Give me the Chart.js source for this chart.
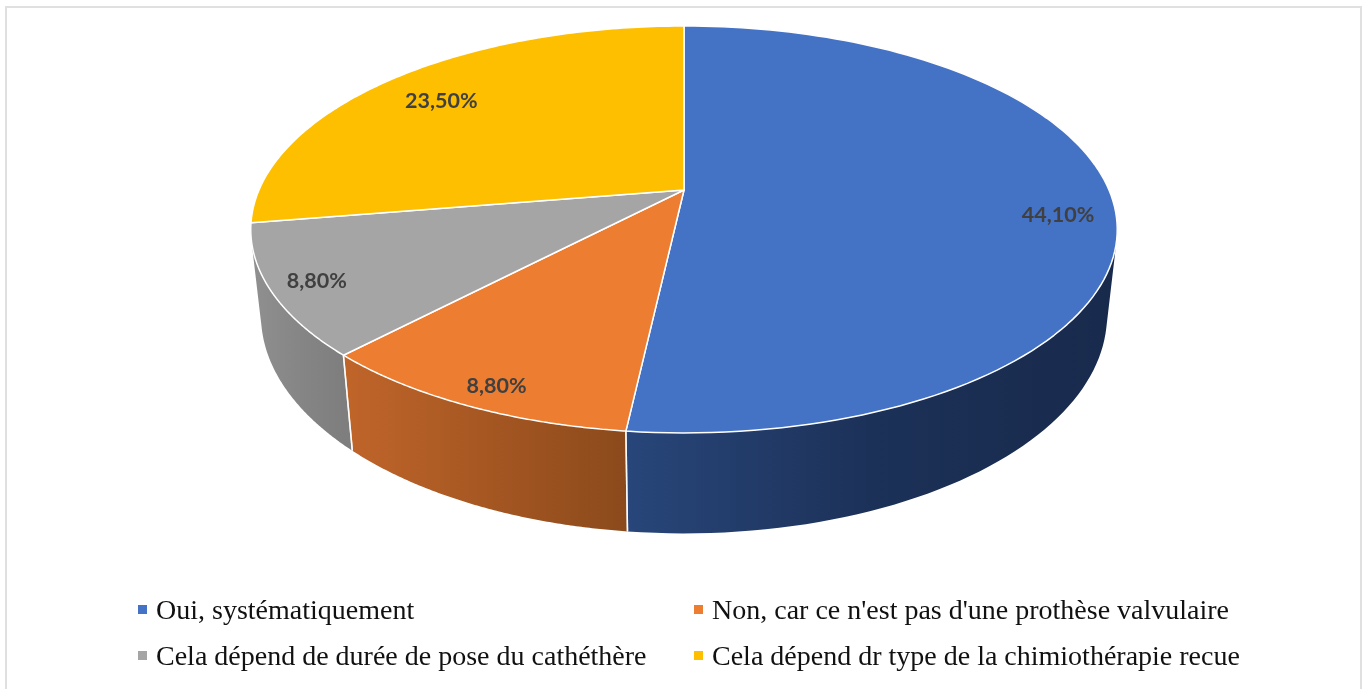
<!DOCTYPE html>
<html>
<head>
<meta charset="utf-8">
<title>Pie 3D</title>
<script src="https://cdn.jsdelivr.net/npm/chart.js@4/dist/chart.umd.js"></script>
<style>
html,body{margin:0;padding:0;background:#fff;overflow:hidden}
#wrap{position:relative;width:1368px;height:689px}
#frame{position:absolute;left:5px;top:6px;width:1357px;height:690px;border:2px solid #e0e0e0;box-sizing:border-box}
#pie3d{position:absolute;left:0;top:0}
.leg{position:absolute;font-family:"Liberation Serif",serif;font-size:28px;line-height:30px;color:#111;white-space:nowrap}
.leg i{position:absolute;width:9px;height:9px;top:10px}
</style>
</head>
<body>
<div id="wrap">
	<div id="frame"></div>
	<canvas id="pie3d" width="1368" height="689"></canvas>
	<div id="legend"></div>
</div>
<script>
var categories=["Oui, systématiquement","Non, car ce n'est pas d'une prothèse valvulaire","Cela dépend de durée de pose du cathéthère","Cela dépend dr type de la chimiothérapie recue"];
var valeurs=[44.1,8.8,8.8,23.5];
var couleurs=["#4472c4","#ed7d31","#a5a5a5","#fdbf00"];
// side wall gradient, left to right
var couleursCote=[["#28467a","#1c3158","#182a4c"],["#c0652a","#a65722","#8b4a1c"],["#909090","#868686","#7e7e7e"],["#bf9000","#bf9000","#bf9000"]];

// circle -> ellipse with perspective, the centre of the pie stays off the ellipse centre
var faceHaut={b:425,a:195.8,k:-0.194,dy:0};
var faceBas={b:415.3,a:210.1,k:-0.19,dy:84};
var decalageEtiquettes=[[-3,15],[-1,11],[-8,3],[14,12]];
var NB_PAS=120;

function projeter(el,angle,f,m){
	var v=f*Math.sin(angle),d=1+m.k*v;
	return {x:el.x+m.b*f*Math.cos(angle)/d,y:el.y+m.dy+m.a*v/d};
}
function angleAt(el,i){
	return el.startAngle+(el.endAngle-el.startAngle)*i/NB_PAS;
}
// wall made of small quads so the vertical tangent edges are filled too
function tracerCote(ctx,el){
	ctx.beginPath();
	for(var i=0;i<NB_PAS;i++){
		var q=[projeter(el,angleAt(el,i),1,faceHaut),projeter(el,angleAt(el,i+1),1,faceHaut),
			projeter(el,angleAt(el,i+1),1,faceBas),projeter(el,angleAt(el,i),1,faceBas)];
		var aire=0;
		q.forEach(function(p,j){var s=q[(j+1)%4];aire+=p.x*s.y-s.x*p.y;});
		if(aire<0) q.reverse();
		q.forEach(function(p,j){if(j==0) ctx.moveTo(p.x,p.y); else ctx.lineTo(p.x,p.y);});
		ctx.closePath();
	}
}
var plugin3d={
	id:'pie3d',
	beforeDatasetsDraw:function(chart){
		var ctx=chart.ctx;
		var arcs=chart.getDatasetMeta(0).data;
		ctx.save();
		ctx.lineJoin='round';
		// walls first, only for the slices facing us
		arcs.forEach(function(el,i){
			if(Math.sin((el.startAngle+el.endAngle)/2)<0) return;
			var xMin=Infinity,xMax=-Infinity;
			for(var n=0;n<=NB_PAS;n++){
				var x=projeter(el,angleAt(el,n),1,faceHaut).x;
				xMin=Math.min(xMin,x);xMax=Math.max(xMax,x);
			}
			var grad=ctx.createLinearGradient(xMin,0,xMax,0);
			couleursCote[i].forEach(function(c,j){grad.addColorStop(j/2,c);});
			tracerCote(ctx,el);
			ctx.fillStyle=grad;
			ctx.fill();
		});
		// white vertical edges on the front
		arcs.forEach(function(el){
			[el.startAngle,el.endAngle].forEach(function(a){
				if(Math.sin(a)<0.3) return;
				var h=projeter(el,a,1,faceHaut),b=projeter(el,a,1,faceBas);
				ctx.beginPath();
				ctx.moveTo(h.x,h.y);
				ctx.lineTo(b.x,b.y);
				ctx.strokeStyle='rgba(255,255,255,0.85)';
				ctx.lineWidth=1.5;
				ctx.stroke();
			});
		});
		arcs.forEach(function(el){
			ctx.beginPath();
			ctx.moveTo(el.x,el.y);
			for(var n=0;n<=NB_PAS;n++){
				var p=projeter(el,angleAt(el,n),1,faceHaut);
				ctx.lineTo(p.x,p.y);
			}
			ctx.closePath();
			ctx.fillStyle=el.options.backgroundColor;
			ctx.fill();
			ctx.strokeStyle=el.options.borderColor;
			ctx.lineWidth=el.options.borderWidth;
			ctx.stroke();
		});
		// value labels
		ctx.font='bold 21.5px Lato';
		ctx.fillStyle='#404040';
		ctx.textAlign='center';
		ctx.textBaseline='middle';
		arcs.forEach(function(el,i){
			var p=projeter(el,(el.startAngle+el.endAngle)/2,0.88,faceHaut);
			var txt=valeurs[i].toFixed(2).replace('.',',')+'%';
			ctx.fillText(txt,p.x+decalageEtiquettes[i][0],p.y+decalageEtiquettes[i][1]);
		});
		ctx.restore();
		return false;
	}
};

new Chart(document.getElementById("pie3d"),{
	type:'pie',
	data:{
		labels:categories,
		datasets:[{data:valeurs,backgroundColor:couleurs,borderColor:'#ffffff',borderWidth:1.5}]
	},
	options:{
		responsive:false,
		animation:false,
		layout:{padding:{bottom:309}},
		plugins:{legend:{display:false},tooltip:{enabled:false}}
	},
	plugins:[plugin3d]
});

// legend in two aligned columns, the chart.js one cannot align them
var colonnes=[156,712],lignes=[595,641];
var legende=document.getElementById("legend");
categories.forEach(function(c,i){
	var d=document.createElement("div");
	d.className="leg";
	d.style.left=colonnes[i%2]+"px";
	d.style.top=lignes[Math.floor(i/2)]+"px";
	d.textContent=c;
	var m=document.createElement("i");
	m.style.left="-18px";
	m.style.background=couleurs[i];
	d.appendChild(m);
	legende.appendChild(d);
});
</script>
</body>
</html>
